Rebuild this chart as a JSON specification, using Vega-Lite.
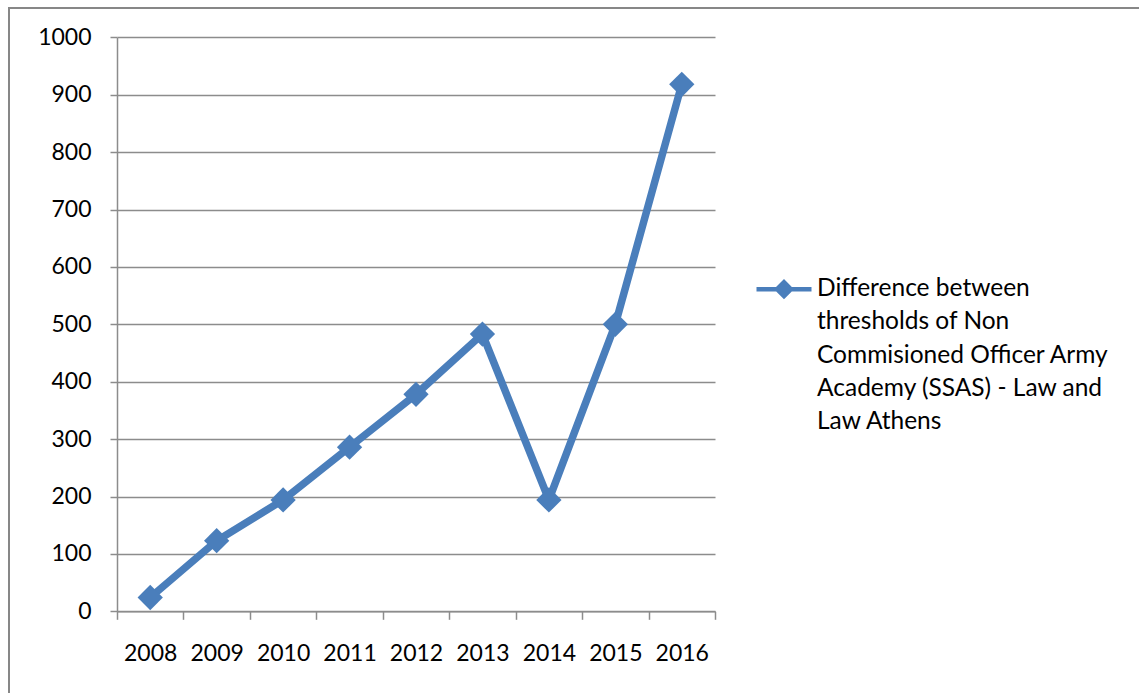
{
  "$schema": "https://vega.github.io/schema/vega-lite/v6.json",
  "width": 1135,
  "height": 690,
  "autosize": {"type": "none"},
  "padding": {"left": 9, "top": 8, "right": 0, "bottom": 0},
  "background": "white",
  "config": {
    "font": "Lato",
    "view": {"stroke": "#878787", "strokeWidth": 2}
  },
  "data": {
    "values": [
      {"year": "2008", "difference": 24, "series": "Difference between thresholds of Non Commisioned Officer Army Academy (SSAS) - Law and Law Athens"},
      {"year": "2009", "difference": 123, "series": "Difference between thresholds of Non Commisioned Officer Army Academy (SSAS) - Law and Law Athens"},
      {"year": "2010", "difference": 194, "series": "Difference between thresholds of Non Commisioned Officer Army Academy (SSAS) - Law and Law Athens"},
      {"year": "2011", "difference": 286, "series": "Difference between thresholds of Non Commisioned Officer Army Academy (SSAS) - Law and Law Athens"},
      {"year": "2012", "difference": 378, "series": "Difference between thresholds of Non Commisioned Officer Army Academy (SSAS) - Law and Law Athens"},
      {"year": "2013", "difference": 483, "series": "Difference between thresholds of Non Commisioned Officer Army Academy (SSAS) - Law and Law Athens"},
      {"year": "2014", "difference": 194, "series": "Difference between thresholds of Non Commisioned Officer Army Academy (SSAS) - Law and Law Athens"},
      {"year": "2015", "difference": 500, "series": "Difference between thresholds of Non Commisioned Officer Army Academy (SSAS) - Law and Law Athens"},
      {"year": "2016", "difference": 918, "series": "Difference between thresholds of Non Commisioned Officer Army Academy (SSAS) - Law and Law Athens"}
    ]
  },
  "mark": {
    "type": "line",
    "strokeWidth": 7.5,
    "strokeJoin": "miter",
    "point": {"shape": "diamond", "size": 640, "filled": true, "opacity": 1}
  },
  "encoding": {
    "x": {
      "field": "year",
      "type": "ordinal",
      "scale": {"type": "band", "range": [108, 706], "paddingInner": 0, "paddingOuter": 0},
      "axis": {
        "title": null,
        "orient": "bottom",
        "offset": -86.7,
        "labelAngle": 0,
        "labelFontSize": 23,
        "labelColor": "#000000",
        "labelPadding": 23,
        "tickBand": "extent",
        "tickSize": 8,
        "tickColor": "#8c8c8c",
        "domainColor": "#8c8c8c",
        "tickWidth": 1.5,
        "domainWidth": 1.5,
        "grid": false
      }
    },
    "y": {
      "field": "difference",
      "type": "quantitative",
      "scale": {"domain": [0, 1000], "range": [603.3, 29.3], "nice": false},
      "axis": {
        "title": null,
        "orient": "left",
        "offset": -108,
        "format": "d",
        "values": [0, 100, 200, 300, 400, 500, 600, 700, 800, 900, 1000],
        "labelFontSize": 23,
        "labelColor": "#000000",
        "labelPadding": 19,
        "tickSize": 7,
        "tickColor": "#8c8c8c",
        "tickWidth": 1.5,
        "domainColor": "#8c8c8c",
        "domainWidth": 1.5,
        "grid": true,
        "gridColor": "#8c8c8c",
        "gridWidth": 1.5
      }
    },
    "color": {
      "field": "series",
      "type": "nominal",
      "scale": {"range": ["#4a7ebb"]},
      "legend": {
        "title": null,
        "orient": "none",
        "legendX": 745,
        "legendY": 258,
        "symbolType": "M-1,-0.25L1,-0.25M-0.25,-0.25L0,-0.5L0.25,-0.25L0,0Z",
        "symbolSize": 3025,
        "symbolStrokeWidth": 4.5,
        "symbolFillColor": "#4a7ebb",
        "labelFontSize": 24.5,
        "labelColor": "#000000",
        "labelBaseline": "alphabetic",
        "labelLimit": 0,
        "labelOffset": 3,
        "labelExpr": "['Difference between', 'thresholds of Non', 'Commisioned Officer Army', 'Academy (SSAS) - Law and', 'Law Athens']",
        "encode": {"labels": {"update": {"lineHeight": {"value": 33.3}}}}
      }
    }
  }
}
